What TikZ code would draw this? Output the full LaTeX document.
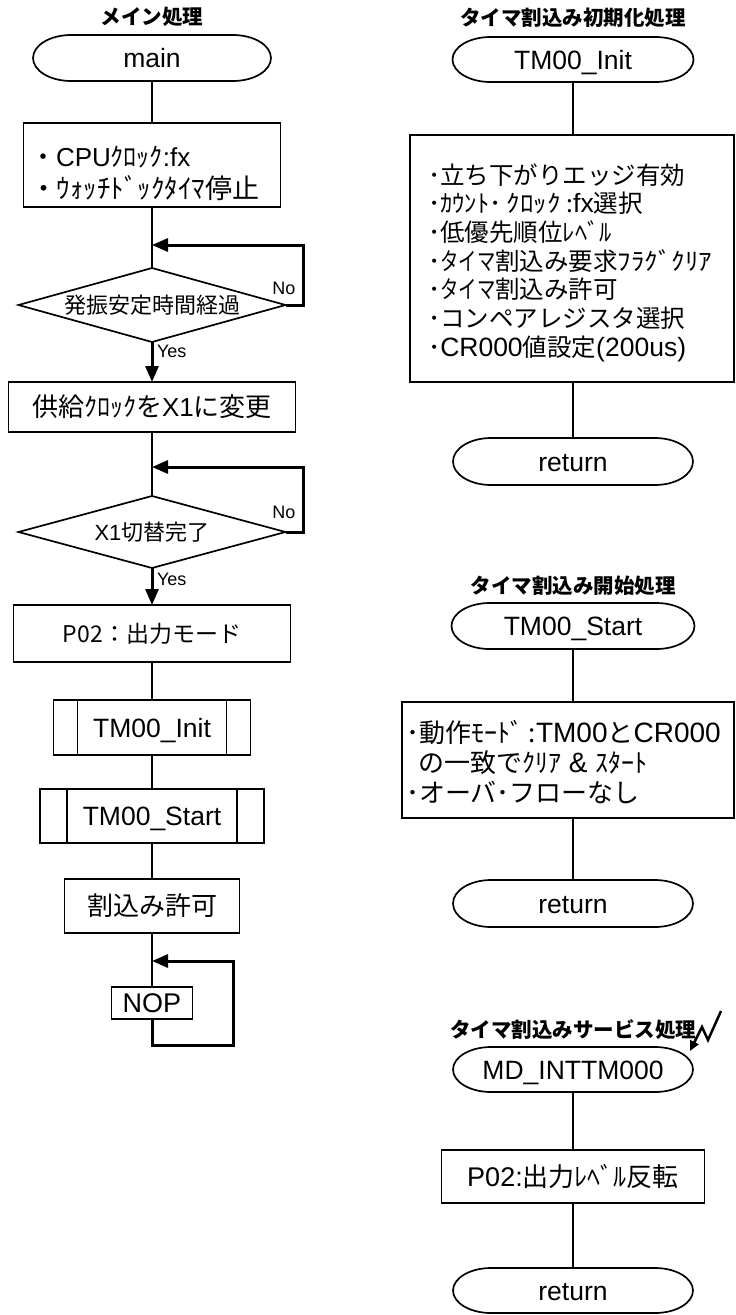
\documentclass[tikz,border=0pt]{standalone}
\usepackage{fontspec}
\setmainfont{Liberation Sans}
\newfontfamily\jp{Noto Sans CJK JP}
\newfontfamily\jpnar[FakeStretch=0.75]{Noto Sans CJK JP}
\newfontfamily\jpwide[FakeStretch=1.1]{Noto Sans CJK JP}
\usetikzlibrary{arrows.meta,shapes.geometric}
\newcommand\fs[1]{\fontsize{#1}{#1}\selectfont}
\newcommand\J[1]{{\jp #1}}
\newcommand\K[1]{{\jp\fs{24.5}#1}}
\newcommand\KN[1]{{\jpnar\fs{24.5}#1}}
\newcommand\KW[1]{{\jpwide\fs{24.5}#1}}
\tikzset{
  every node/.style={inner sep=0pt, outer sep=0pt},
  ln/.style={line width=1.7pt},
  f28/.style={font=\fs{28}, text height=20pt, text depth=0pt},
  f27/.style={font=\fs{27}, text height=19.5pt, text depth=0pt},
  f265/.style={font=\fs{26.5}, text height=19pt, text depth=0pt},
  f26/.style={font=\fs{26}, text height=19pt, text depth=0pt},
  f23/.style={font=\fs{23}, text height=17pt, text depth=0pt},
  f22/.style={font=\fs{22}, text height=16pt, text depth=0pt},
  f18/.style={font=\fs{18}, text height=13pt, text depth=0pt},
  ttl/.style={font=\fs{20.5}\jp\bfseries, text height=15pt, text depth=0pt},
  box/.style={draw, line width=1.7pt, rectangle},
  dia/.style={draw, line width=1.7pt, diamond, aspect=3.6},
  arr/.style={line width=3pt, -{Triangle[length=16pt,width=13pt]}},
  loopl/.style={line width=3pt, -{Triangle[length=16pt,width=13pt]}},
}
\newcommand\term[5]{%
  \node[f265, minimum width=#3pt, minimum height=#4pt] (#1) at (#2) {#5};
  \draw[ln] ([xshift=38pt]#1.north west) -- ([xshift=-38pt]#1.north east)
    arc[start angle=90, end angle=-90, x radius=38pt, y radius=#4pt/2]
    -- ([xshift=38pt]#1.south west)
    arc[start angle=270, end angle=90, x radius=38pt, y radius=#4pt/2] -- cycle;}
\newcommand\pred[6]{%
  \node[box, f265, minimum width=#3pt, minimum height=#4pt] (#1) at (#2) {#6};
  \draw[ln] ([xshift=#5pt]#1.north west) -- ([xshift=#5pt]#1.south west);
  \draw[ln] ([xshift=-#5pt]#1.north east) -- ([xshift=-#5pt]#1.south east);}
\begin{document}
\begin{tikzpicture}[x=1pt, y=-1pt]
\useasboundingbox (0,0) rectangle (736,1315);

% ---------------- left column: main ----------------
\node[ttl] (tmain) at (152,17) {メイン処理};
\term{main}{152,58}{238}{46}{main}

\node[box, minimum width=257pt, minimum height=84pt] (b1) at (152,165) {};
\node[f26, anchor=base west] (b1a) at (30,166) {\J{・}CPU\J{ｸﾛｯｸ}:fx};
\node[f26, anchor=base west] (b1b) at (30,198) {\J{\fs{27}・ｳｫｯﾁﾄﾞｯｸﾀｲﾏ停止}};

\node[dia, minimum width=267pt, minimum height=74pt, f22] (d1) at (152,305) {\J{発振安定時間経過}};
\node[f18] (no1) at (284,288) {No};
\node[f18, anchor=west] (yes1) at (157,351) {Yes};

\node[box, f26, minimum width=287pt, minimum height=50pt] (b2) at (152,407) {\J{供給ｸﾛｯｸを}X1\J{に変更}};

\node[dia, minimum width=267pt, minimum height=72pt, f22] (d2) at (152,532) {X1\J{切替完了}};
\node[f18] (no2) at (284,512) {No};
\node[f18, anchor=west] (yes2) at (157,579) {Yes};

\node[box, f23, minimum width=277pt, minimum height=57pt] (b3) at (152,633.5) {\J{P02：出力モード}};
\pred{p1}{152,727.5}{197}{55}{24}{TM00\_Init}
\pred{p2}{152,816}{224}{54}{27}{TM00\_Start}
\node[box, f26, minimum width=175pt, minimum height=54pt] (b4) at (152,906) {\J{割込み許可}};
\node[box, f27, minimum width=81pt, minimum height=32pt] (nop) at (152,1003) {NOP};

\coordinate (j1) at (152,245);
\coordinate (c1) at (303,245);
\coordinate (j2) at (152,467);
\coordinate (c2) at (303,467);
\coordinate (j3) at (152,961);
\coordinate (c3) at (233,961);
\coordinate (c3a) at (152,1045);

\draw[ln] (main.south) -- (b1.north);
\draw[ln] (b1.south) -- (d1.north);
\draw[loopl] (d1.east) -| (c1) -- (j1);
\draw[arr] (d1.south) -- (b2.north);
\draw[ln] (b2.south) -- (d2.north);
\draw[loopl] (d2.east) -| (c2) -- (j2);
\draw[arr] (d2.south) -- (b3.north);
\draw[ln] (b3.south) -- (p1.north);
\draw[ln] (p1.south) -- (p2.north);
\draw[ln] (p2.south) -- (b4.north);
\draw[ln] (b4.south) -- (nop.north);
\draw[loopl] (nop.south) -- (c3a) -| (c3) -- (j3);

% ---------------- right column ----------------
\node[ttl] (tinit) at (573,18) {タイマ割込み初期化処理};
\term{ti}{573,59.5}{241}{45}{TM00\_Init}
\node[box, minimum width=324pt, minimum height=247pt] (rb1) at (572,258.5) {};
\node[f265, anchor=base west] (r1a) at (428,184) {\K{･立ち下がりエッジ有効}};
\node[f265, anchor=base west] (r1b) at (428,212.7) {\K{･ｶｳﾝﾄ･ }\KW{ｸﾛｯｸ}\K{ :}fx\K{選択}};
\node[f265, anchor=base west] (r1c) at (428,241.4) {\K{･低優先順位ﾚﾍﾞﾙ}};
\node[f265, anchor=base west] (r1d) at (428,270.1) {\K{･}\KN{タイマ}\K{割込み要求}\KW{ﾌﾗｸﾞｸﾘｱ}};
\node[f265, anchor=base west] (r1e) at (428,298.8) {\K{･}\KN{タイマ}\K{割込み許可}};
\node[f265, anchor=base west] (r1f) at (428,327.5) {\K{･コンペアレジスタ選択}};
\node[f265, anchor=base west] (r1g) at (428,356.2) {\K{･}CR000\K{値設定}(200us)};
\term{ret1}{573,461.5}{240}{47}{return}
\draw[ln] (ti.south) -- (ti.south |- rb1.north);
\draw[ln] (ti.south |- rb1.south) -- (ret1.north);

\node[ttl] (tstart) at (573,586) {タイマ割込み開始処理};
\term{ts}{573,626}{243}{46}{TM00\_Start}
\node[box, minimum width=332pt, minimum height=116pt] (rb2) at (568,760) {};
\node[f28, anchor=base west] (r2a) at (406,742) {\J{\fs{26}･動作ﾓｰﾄﾞ :}TM00\J{\fs{26}と}CR000};
\node[f28, anchor=base west] (r2b) at (418,772) {\J{\fs{26}の一致でｸﾘｱ} \& \J{\fs{26}ｽﾀｰﾄ}};
\node[f26, anchor=base west] (r2c) at (406,802) {\J{･オーバ･フローなし}};
\term{ret2}{573,903.5}{240}{47}{return}
\draw[ln] (ts.south) -- (ts.south |- rb2.north);
\draw[ln] (ts.south |- rb2.south) -- (ret2.north);

\node[ttl] (tisr) at (573,1030) {タイマ割込みサービス処理};
\term{mi}{573,1069.5}{240}{45}{MD\_INTTM000}
\node[box, f27, minimum width=263pt, minimum height=53pt] (rb3) at (573,1176.5) {P02:\J{\fs{26}出力ﾚﾍﾞﾙ反転}};
\term{ret3}{573,1290.5}{240}{45}{return}
\draw[ln] (mi.south) -- (rb3.north);
\draw[ln] (rb3.south) -- (ret3.north);

\coordinate (z1) at (721,1011);
\coordinate (z2) at (708,1040);
\coordinate (z3) at (702,1027);
\coordinate (z4) at (690,1051);
\draw[line width=2.5pt, -{Triangle[length=10pt,width=9pt]}] (z1) -- (z2) -- (z3) -- (z4);
\end{tikzpicture}
\end{document}
